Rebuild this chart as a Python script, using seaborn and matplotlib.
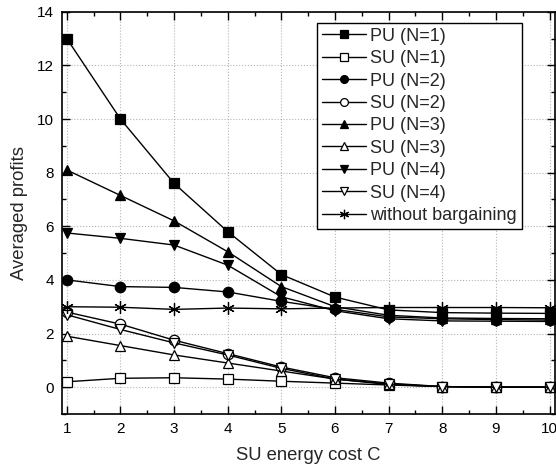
import numpy as np
import pandas as pd
import matplotlib
matplotlib.use("Agg")
import matplotlib.pyplot as plt
import seaborn as sns
from matplotlib.ticker import MultipleLocator

# energy cost values
cost = [1, 2, 3, 4, 5, 6, 7, 8, 9, 10]

# averaged profits
pu_n1 = [13.0, 10.0, 7.6, 5.8, 4.2, 3.36, 2.88, 2.78, 2.76, 2.75]
su_n1 = [0.2, 0.33, 0.35, 0.3, 0.22, 0.15, 0.08, 0.02, 0.0, 0.0]
pu_n2 = [4.0, 3.75, 3.72, 3.55, 3.2, 2.9, 2.62, 2.55, 2.52, 2.5]
su_n2 = [2.8, 2.35, 1.75, 1.25, 0.75, 0.35, 0.15, 0.02, 0.0, 0.0]
pu_n3 = [8.1, 7.15, 6.2, 5.05, 3.75, 3.0, 2.68, 2.58, 2.56, 2.55]
su_n3 = [1.9, 1.55, 1.2, 0.9, 0.6, 0.3, 0.1, 0.02, 0.0, 0.0]
pu_n4 = [5.75, 5.55, 5.3, 4.55, 3.37, 2.85, 2.55, 2.47, 2.46, 2.45]
su_n4 = [2.7, 2.15, 1.65, 1.2, 0.7, 0.3, 0.12, 0.02, 0.0, 0.0]
no_barg = [3.0, 2.98, 2.9, 2.95, 2.92, 2.95, 2.97, 2.97, 2.97, 2.96]

labels = ["PU (N=1)", "SU (N=1)", "PU (N=2)", "SU (N=2)", "PU (N=3)",
          "SU (N=3)", "PU (N=4)", "SU (N=4)", "without bargaining"]
series = [pu_n1, su_n1, pu_n2, su_n2, pu_n3, su_n3, pu_n4, su_n4, no_barg]

# marker / fill per series
styles = [("s", "black"), ("s", "white"), ("o", "black"), ("o", "white"),
          ("^", "black"), ("^", "white"), ("v", "black"), ("v", "white"),
          ((6, 2, 0), "black")]

df = pd.DataFrame({
    "C": cost * len(series),
    "profit": np.concatenate(series),
    "series": np.repeat(labels, len(cost)),
})

sns.set_style("ticks")
plt.rcParams["font.family"] = ["Liberation Sans", "DejaVu Sans"]

fig, ax = plt.subplots(figsize=(5.56, 4.72), dpi=100)
fig.subplots_adjust(left=0.1115, right=0.998, bottom=0.123, top=0.975)

for lab, (mk, fc) in zip(labels, styles):
    sub = df[df["series"] == lab]
    ms = 9 if isinstance(mk, tuple) else 7.5
    sns.lineplot(data=sub, x="C", y="profit", ax=ax, color="black", lw=1,
                 marker=mk, markersize=ms, markerfacecolor=fc,
                 markeredgecolor="black", markeredgewidth=0.9, label=lab)

ax.set_xlim(0.91, 10.1)
ax.set_ylim(-1, 14)
ax.xaxis.set_major_locator(MultipleLocator(1))
ax.xaxis.set_minor_locator(MultipleLocator(0.5))
ax.yaxis.set_major_locator(MultipleLocator(2))
ax.yaxis.set_minor_locator(MultipleLocator(1))
ax.tick_params(which="both", direction="in", top=True, right=True,
               labelsize=11, width=1, colors="black")
ax.tick_params(which="major", length=6, pad=6)
ax.tick_params(which="minor", length=3)
ax.grid(True, which="major", color="#b5b5b5", linestyle=":", lw=0.8)
for sp in ax.spines.values():
    sp.set_color("black")
    sp.set_linewidth(1.2)

ax.set_xlabel("SU energy cost C", fontsize=13.3, labelpad=8)
ax.set_ylabel("Averaged profits", fontsize=13.3, labelpad=6)

leg = ax.legend(loc="upper right", bbox_to_anchor=(0.933, 0.973),
                borderaxespad=0, fontsize=13, frameon=True, fancybox=False,
                edgecolor="black", framealpha=1, markerscale=0.75,
                handlelength=2.4, labelspacing=0.3, borderpad=0.28,
                handletextpad=0.25)
leg.get_frame().set_linewidth(1)

fig.savefig("out.png", dpi=100)
